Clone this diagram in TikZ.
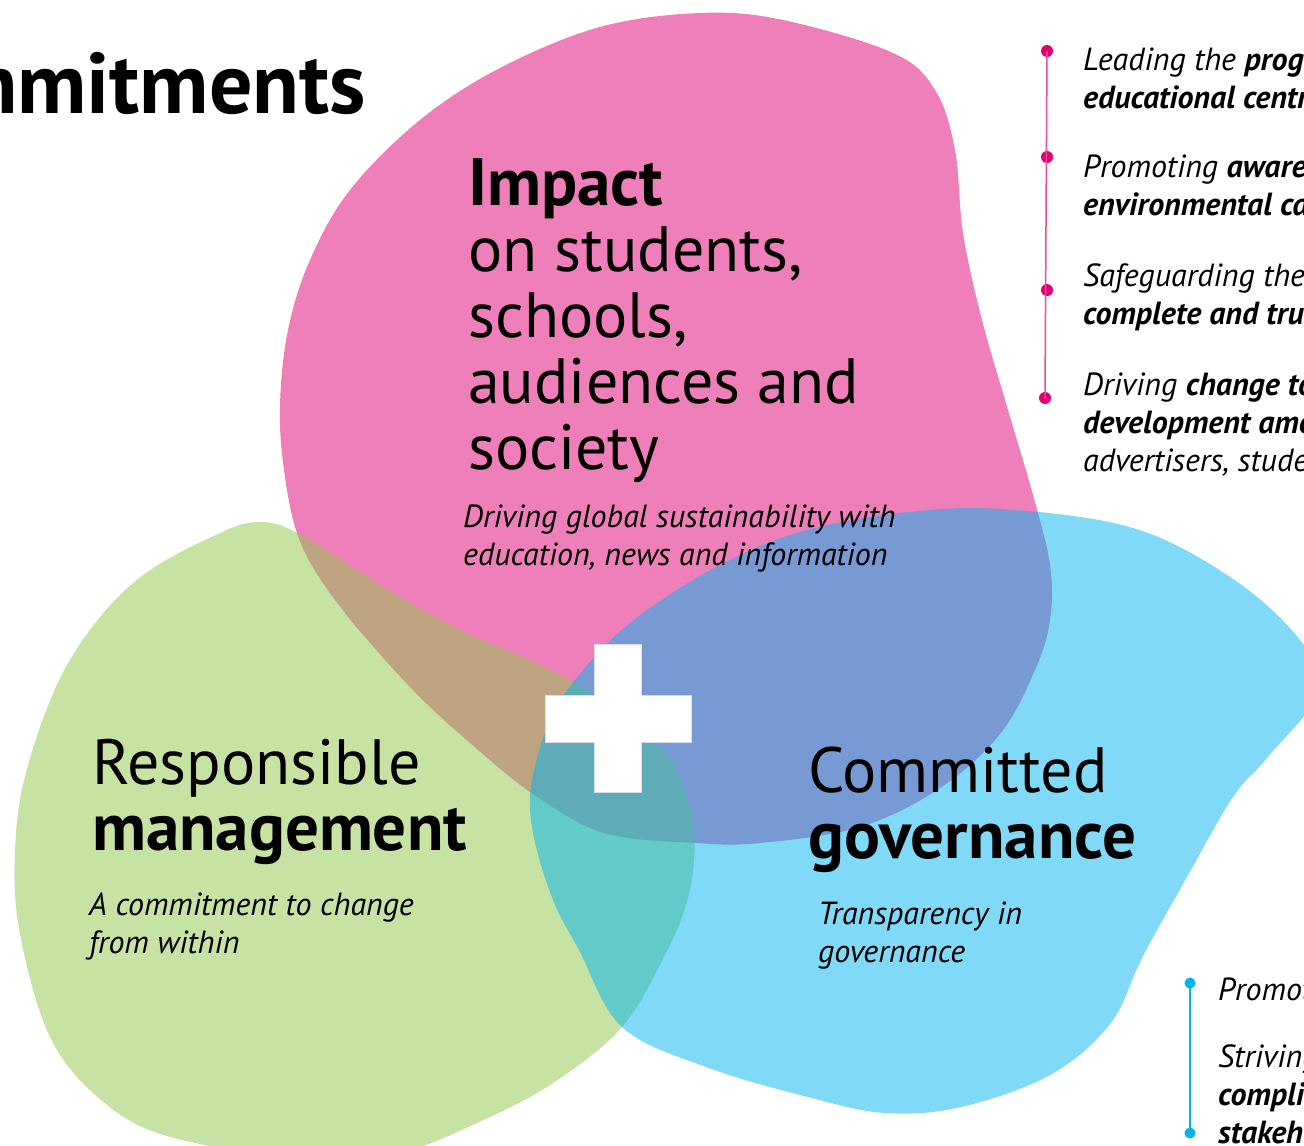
\documentclass[tikz,border=0pt]{standalone}
\usepackage{fontspec}
\setmainfont{PT Sans}
\usetikzlibrary{positioning}

\definecolor{impactpink}{RGB}{224,0,116}
\definecolor{govblue}{RGB}{0,180,240}
\definecolor{mgmtgreen}{RGB}{143,201,75}
\definecolor{crossedge}{RGB}{214,220,236}

\newcommand\headbf[1]{{\fontsize{67}{66}\selectfont\bfseries #1}}

% multi-line nodes sit on the baseline of their last line
\tikzset{
  blob/.style={fill=#1, fill opacity=0.5},
  headline/.style={anchor=base west, inner sep=0pt, align=left,
    font=\fontsize{64}{66}\selectfont},
  tagline/.style={anchor=base west, inner sep=0pt, align=left,
    font=\fontsize{32}{38}\selectfont\itshape},
  dot/.style={circle, fill=#1, inner sep=0pt, minimum size=12pt},
}

\begin{document}
\begin{tikzpicture}[x=1pt,y=-1pt]
  \useasboundingbox (0,0) rectangle (1304,1146);
  \clip (0,0) rectangle (1304,1146);
  \fill[white] (0,0) rectangle (1304,1146);

  % the three blobs
  \fill[blob=impactpink] plot[smooth cycle, tension=0.6] coordinates {
    (700,13) (783,20) (893,53) (935,90) (955,150) (963,233) (982,320)
    (1008,410) (1033,495) (1050,565) (1050,620) (1035,670) (1000,734)
    (940,788) (860,827) (760,843) (696,843) (604,833) (533,794) (477,749)
    (427,704) (377,651) (327,589) (298,536) (284,470) (280,405) (288,330)
    (310,260) (350,190) (420,120) (500,68) (600,27)};
  \fill[blob=mgmtgreen] plot[smooth cycle, tension=0.6] coordinates {
    (263,522) (300,534) (343,561) (393,593) (460,630) (527,659) (577,684)
    (635,722) (673,765) (692,815) (694,860) (686,905) (665,955) (622,1027)
    (553,1083) (477,1123) (400,1152) (300,1158) (167,1136) (100,1099)
    (50,1037) (20,934) (15,851) (27,769) (67,665) (133,583) (220,533)};
  \fill[blob=govblue] plot[smooth cycle, tension=0.6] coordinates {
    (1000,509) (1133,528) (1233,579) (1300,640) (1320,690) (1267,758)
    (1233,797) (1187,877) (1143,956) (1110,1024) (1050,1075) (961,1107)
    (885,1113) (808,1097) (706,1067) (622,1027) (579,950) (553,900)
    (533,833) (532,780) (555,710) (600,651) (650,608) (720,565) (800,532)
    (900,513)};

  % plus sign
  \filldraw[fill=white, draw=crossedge, line width=0.8pt]
    (594,644) -- (641,644) -- (641,695) -- (691,695) -- (691,742)
    -- (641,742) -- (641,792) -- (594,792) -- (594,742) -- (545,742)
    -- (545,695) -- (594,695) -- cycle;

  % headings
  \node (title) [anchor=base east, inner sep=0pt,
    font=\fontsize{86}{90}\selectfont\bfseries] at (366,113) {Our commitments};

  \node (impact) [headline] at (468,469)
    {\headbf{Impact}\\on students,\\schools,\\audiences and\\society};
  \node (impactsub) [tagline] at (463,565)
    {Driving global sustainability with\\education, news and information};

  \node (resp) [headline] at (92,850) {Responsible\\\headbf{management}};
  \node (respsub) [tagline] at (89,953) {A commitment to change\\from within};

  \node (comm) [headline] at (808,858) {Committed\\\headbf{governance}};
  \node (commsub) [tagline] at (818,962) {Transparency in\\governance};

  % pink list
  \node (p1) [dot=impactpink] at (1047,51) {};
  \node (p2) [dot=impactpink] at (1047,157) {};
  \node (p3) [dot=impactpink] at (1047,290) {};
  \node (p4) [dot=impactpink] at (1045,398) {};
  \draw[impactpink!70, line width=1.5pt] (p1.center) -- (p4.center);

  \node (i1) [tagline] at (1083,108)
    {Leading the \textbf{progress}\\\textbf{educational centres}};
  \node (i2) [tagline] at (1083,215)
    {Promoting \textbf{awareness}\\\textbf{environmental care}};
  \node (i3) [tagline] at (1083,324)
    {Safeguarding the\\\textbf{complete and truthful}};
  \node (i4) [tagline] at (1083,471)
    {Driving \textbf{change towards}\\\textbf{development among}\\advertisers, students};

  % blue list
  \node (b1) [dot=govblue, minimum size=11pt] at (1190,983) {};
  \node (b2) [dot=govblue, minimum size=11pt] at (1190,1133) {};
  \draw[govblue, line width=1.5pt] (b1.center) -- (b2.center);

  \node (g1) [tagline] at (1218,1000) {Promoting};
  \node (g2) [tagline] at (1218,1143)
    {Striving\\\textbf{compliance}\\\textbf{stakeholders}};
\end{tikzpicture}
\end{document}
